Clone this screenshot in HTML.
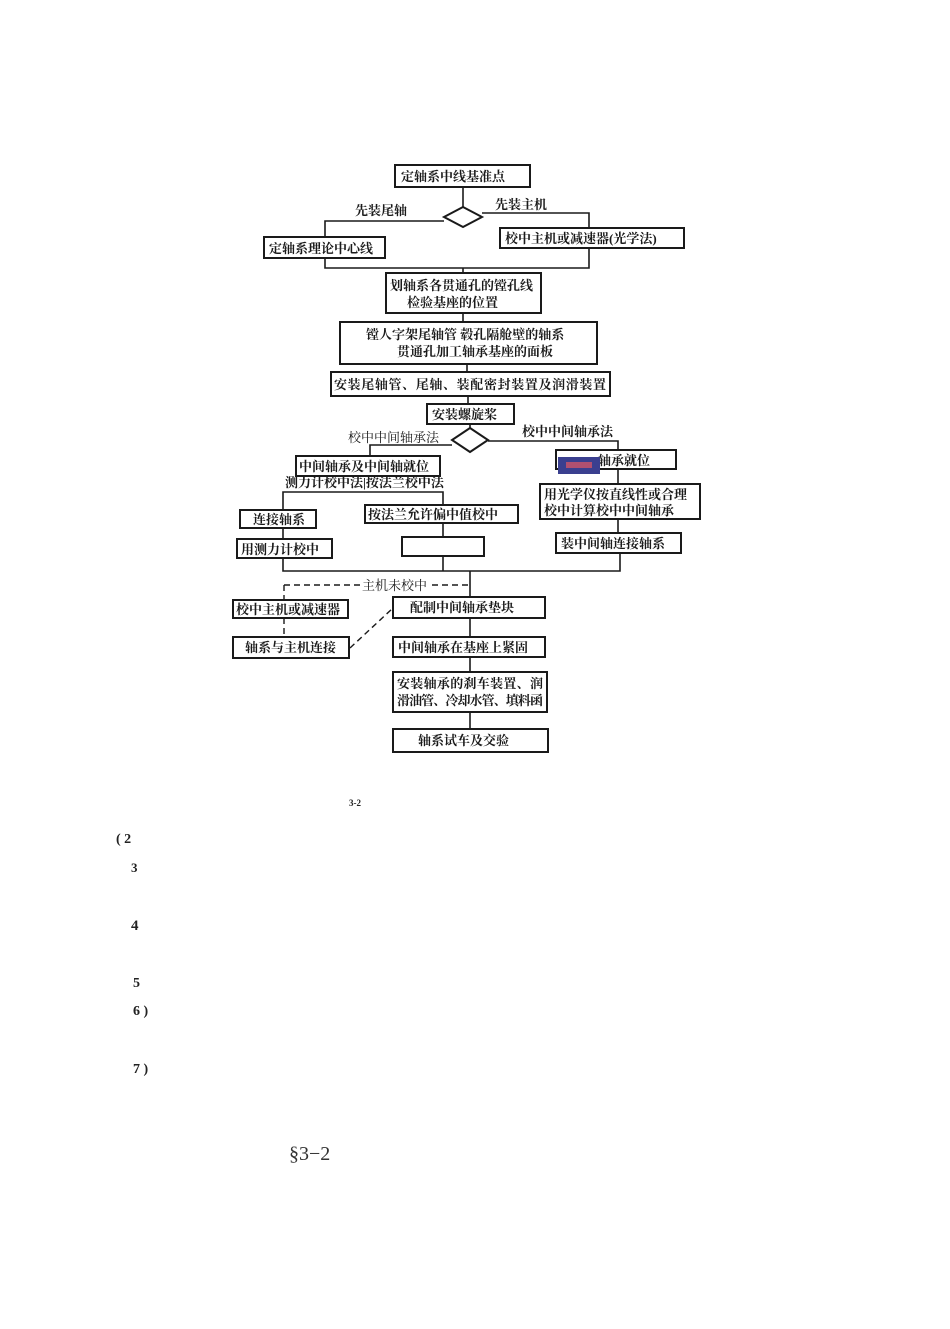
<!DOCTYPE html>
<html><head><meta charset="utf-8"><style>
html,body{margin:0;padding:0;background:#fff;}
svg{display:block}
.t{font-family:"Liberation Serif","Noto Serif CJK SC",serif;font-size:13px;font-weight:bold;fill:#1a1a1a}
.b{fill:none;stroke:#1a1a1a;stroke-width:2}
.l{fill:none;stroke:#1a1a1a;stroke-width:1.6}
.d{fill:none;stroke:#1a1a1a;stroke-width:1.4;stroke-dasharray:6,4}
.n{font-family:"Liberation Serif",serif;font-weight:bold;fill:#222}
</style></head><body>
<svg width="950" height="1329" viewBox="0 0 950 1329" xmlns="http://www.w3.org/2000/svg">
<rect class="b" x="395" y="165" width="135" height="22"/>
<text class="t" x="401" y="181">定轴系中线基准点</text>
<line class="l" x1="463" y1="187" x2="463" y2="207"/>
<polygon class="b" points="463,207 482,217 463,227 444,217"/>
<text class="t" x="355" y="215">先装尾轴</text>
<text class="t" x="495" y="209">先装主机</text>
<polyline class="l" points="444,221 325,221 325,268 589,268 589,213 482,213"/>
<rect class="b" x="264" y="237" width="121" height="21" style="fill:#fff"/>
<text class="t" x="269" y="253">定轴系理论中心线</text>
<rect class="b" x="500" y="228" width="184" height="20" style="fill:#fff"/>
<text class="t" x="505" y="243">校中主机或减速器(光学法)</text>
<line class="l" x1="463" y1="268" x2="463" y2="273"/>
<rect class="b" x="386" y="273" width="155" height="40"/>
<text class="t" x="390" y="290">划轴系各贯通孔的镗孔线</text>
<text class="t" x="407" y="307">检验基座的位置</text>
<line class="l" x1="463" y1="313" x2="463" y2="322"/>
<rect class="b" x="340" y="322" width="257" height="42"/>
<text class="t" x="366" y="339">镗人字架尾轴管 毂孔隔舱壁的轴系</text>
<text class="t" x="397" y="356">贯通孔加工轴承基座的面板</text>
<line class="l" x1="467" y1="364" x2="467" y2="372"/>
<rect class="b" x="331" y="372" width="279" height="24"/>
<text class="t" x="334" y="389" textLength="272">安装尾轴管、尾轴、装配密封装置及润滑装置</text>
<line class="l" x1="468" y1="396" x2="468" y2="404"/>
<rect class="b" x="427" y="404" width="87" height="20"/>
<text class="t" x="432" y="419">安装螺旋桨</text>
<line class="l" x1="470" y1="424" x2="470" y2="428"/>
<polygon class="b" points="470,428 488,440 470,452 452,440"/>
<text class="t" x="348" y="442" style="font-weight:normal">校中中间轴承法</text>
<text class="t" x="522" y="436">校中中间轴承法</text>
<polyline class="l" points="452,445 370,445 370,456"/>
<polyline class="l" points="488,441 618,441 618,450"/>
<rect class="b" x="296" y="456" width="144" height="20"/>
<text class="t" x="299" y="471">中间轴承及中间轴就位</text>
<text class="t" x="285" y="487">测力计校中法|按法兰校中法</text>
<polyline class="l" points="283,510 283,492 443,492 443,505"/>
<rect class="b" x="240" y="510" width="76" height="18"/>
<text class="t" x="253" y="524">连接轴系</text>
<line class="l" x1="283" y1="528" x2="283" y2="539"/>
<rect class="b" x="237" y="539" width="95" height="19"/>
<text class="t" x="241" y="554">用测力计校中</text>
<rect class="b" x="365" y="505" width="153" height="18"/>
<text class="t" x="368" y="519">按法兰允许偏中值校中</text>
<line class="l" x1="443" y1="523" x2="443" y2="537"/>
<rect class="b" x="402" y="537" width="82" height="19"/>
<rect class="b" x="556" y="450" width="120" height="19"/>
<text class="t" x="598" y="465">轴承就位</text>
<rect x="558" y="457" width="42" height="17" fill="#3a3f8f"/>
<rect x="566" y="462" width="26" height="6" fill="#b05070"/>
<line class="l" x1="618" y1="469" x2="618" y2="484"/>
<rect class="b" x="540" y="484" width="160" height="35"/>
<text class="t" x="544" y="499">用光学仪按直线性或合理</text>
<text class="t" x="544" y="515">校中计算校中中间轴承</text>
<line class="l" x1="618" y1="519" x2="618" y2="533"/>
<rect class="b" x="556" y="533" width="125" height="20"/>
<text class="t" x="561" y="548">装中间轴连接轴系</text>
<polyline class="l" points="283,558 283,571 620,571 620,553"/>
<line class="l" x1="443" y1="556" x2="443" y2="571"/>
<line class="l" x1="470" y1="571" x2="470" y2="597"/>
<line class="d" x1="284" y1="585" x2="360" y2="585"/>
<line class="d" x1="432" y1="585" x2="468" y2="585"/>
<line class="d" x1="284" y1="585" x2="284" y2="600"/>
<text class="t" x="362" y="590" style="font-weight:normal">主机未校中</text>
<rect class="b" x="233" y="600" width="115" height="18"/>
<text class="t" x="236" y="614">校中主机或减速器</text>
<line class="d" x1="284" y1="618" x2="284" y2="637"/>
<rect class="b" x="233" y="637" width="116" height="21"/>
<text class="t" x="245" y="652">轴系与主机连接</text>
<line class="d" x1="350" y1="648" x2="393" y2="608"/>
<rect class="b" x="393" y="597" width="152" height="21"/>
<text class="t" x="410" y="612">配制中间轴承垫块</text>
<line class="l" x1="470" y1="618" x2="470" y2="637"/>
<rect class="b" x="393" y="637" width="152" height="20"/>
<text class="t" x="398" y="652">中间轴承在基座上紧固</text>
<line class="l" x1="470" y1="657" x2="470" y2="672"/>
<rect class="b" x="393" y="672" width="154" height="40"/>
<text class="t" x="397" y="688" textLength="146">安装轴承的刹车装置、润</text>
<text class="t" x="397" y="705" textLength="146">滑油管、冷却水管、填料函</text>
<line class="l" x1="470" y1="712" x2="470" y2="729"/>
<rect class="b" x="393" y="729" width="155" height="23"/>
<text class="t" x="418" y="745">轴系试车及交验</text>
<text class="n" x="349" y="806" font-size="9">3-2</text>
<text class="n" x="116" y="843" font-size="14">( 2</text>
<text class="n" x="131" y="872" font-size="13">3</text>
<text class="n" x="131" y="930" font-size="15">4</text>
<text class="n" x="133" y="987" font-size="14">5</text>
<text class="n" x="133" y="1015" font-size="14">6 )</text>
<text class="n" x="133" y="1073" font-size="14">7 )</text>
<text x="289" y="1160" font-family="Liberation Serif,serif" font-size="20" fill="#333">§3−2</text>
</svg>
</body></html>
